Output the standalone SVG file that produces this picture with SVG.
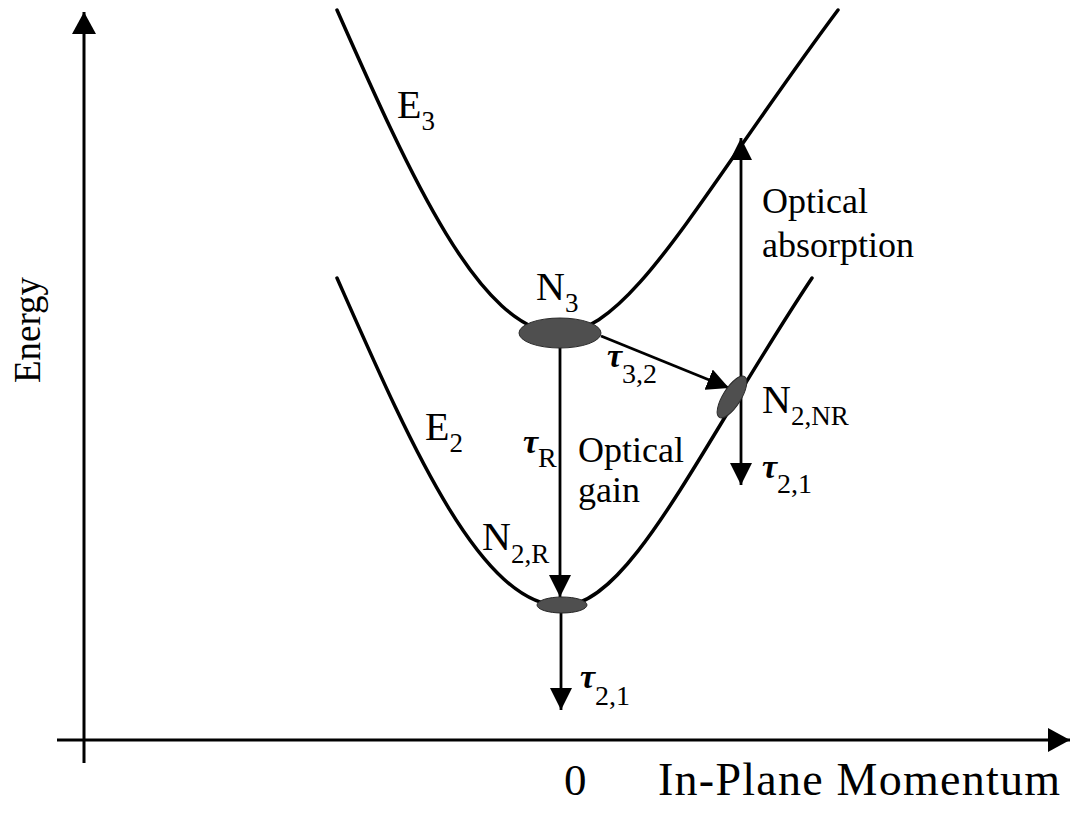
<svg xmlns="http://www.w3.org/2000/svg" width="1073" height="820" viewBox="0 0 1073 820" font-family="'Liberation Serif', 'Times New Roman', serif">
<style>
text{font-family:'Liberation Serif','Times New Roman',serif;fill:#000}
.lbl{font-size:40px}
.sub{font-size:27px}
.tau{font-size:34px;font-weight:bold;font-style:italic}
.tsub{font-size:28px;font-weight:normal;font-style:normal}
.txt{font-size:36px}
.curve{fill:none;stroke:#000;stroke-width:3.5;stroke-linecap:round}
.axis{fill:none;stroke:#000;stroke-width:3}
.arr{fill:none;stroke:#000;stroke-width:2.8}
.pop{fill:#4f4f4f;stroke:#2a2a2a;stroke-width:1}
</style>
<defs>
<marker id="ah" viewBox="0 0 22 22" refX="22" refY="11" markerWidth="22" markerHeight="22" markerUnits="userSpaceOnUse" orient="auto-start-reverse">
<path d="M0,0 L22,11 L0,22 z" fill="#000"/>
</marker>
<marker id="axh" viewBox="0 0 22 24" refX="22" refY="12" markerWidth="22" markerHeight="24" markerUnits="userSpaceOnUse" orient="auto">
<path d="M0,0 L22,12 L0,24 z" fill="#000"/>
</marker>
</defs>
<rect width="1073" height="820" fill="#fff"/>

<g id="axes">
<line class="axis" x1="84" y1="763" x2="84" y2="12" marker-end="url(#axh)"/>
<line class="axis" x1="57" y1="740" x2="1070" y2="740" marker-end="url(#axh)"/>
<text font-family="Liberation Serif, serif" style="font-size:37px" transform="translate(40,330) rotate(-90)" text-anchor="middle">Energy</text>
<text font-family="Liberation Serif, serif" style="font-size:45px" x="564" y="795">0</text>
<text font-family="Liberation Serif, serif" style="font-size:46px" x="658" y="795" textLength="402" lengthAdjust="spacing">In-Plane Momentum</text>
</g>

<g id="band-E3">
<path class="curve" d="M337,10 C410,175 480,333 560,333 C630,333 700,195 838,10"/>
<text class="lbl" font-family="Liberation Serif, serif" x="397" y="118">E<tspan class="sub" dy="12">3</tspan></text>
</g>

<g id="band-E2">
<path class="curve" d="M337,278 C410,443 480,606 562,606 C630,606 700,446 812,278"/>
<text class="lbl" font-family="Liberation Serif, serif" x="425" y="440">E<tspan class="sub" dy="12">2</tspan></text>
</g>

<g id="connectors">
<line class="arr" x1="560" y1="346" x2="560" y2="597" marker-end="url(#ah)"/>
<line class="arr" x1="561" y1="612" x2="561" y2="710" marker-end="url(#ah)"/>
<line class="arr" x1="601" y1="336" x2="729" y2="388" marker-end="url(#ah)"/>
<line class="arr" x1="741" y1="138" x2="741" y2="485" marker-start="url(#ah)" marker-end="url(#ah)"/>
</g>

<g id="node-N3">
<ellipse class="pop" cx="560" cy="333" rx="41" ry="15"/>
<text class="lbl" font-family="Liberation Serif, serif" x="536" y="300">N<tspan class="sub" dy="12">3</tspan></text>
</g>

<g id="node-N2R">
<ellipse class="pop" cx="562" cy="605" rx="25" ry="8"/>
<text class="lbl" font-family="Liberation Serif, serif" x="482" y="550">N<tspan class="sub" dy="13">2,R</tspan></text>
</g>

<g id="node-N2NR">
<ellipse class="pop" cx="732" cy="397" rx="24" ry="9" transform="rotate(-58 732 397)"/>
<text class="lbl" font-family="Liberation Serif, serif" x="762" y="413">N<tspan class="sub" dy="12">2,NR</tspan></text>
</g>

<g id="labels" font-family="Liberation Serif, serif">
<text class="tau" x="523" y="453">τ<tspan class="tsub" dy="14">R</tspan></text>
<text class="tau" x="607" y="367">τ<tspan class="tsub" dy="16">3,2</tspan></text>
<text class="tau" x="762" y="478">τ<tspan class="tsub" dy="15">2,1</tspan></text>
<text class="tau" x="580" y="688">τ<tspan class="tsub" dy="17">2,1</tspan></text>
<text class="txt" x="578" y="462">Optical</text>
<text class="txt" x="578" y="502">gain</text>
<text class="txt" x="762" y="213">Optical</text>
<text class="txt" x="762" y="257">absorption</text>
</g>
</svg>
